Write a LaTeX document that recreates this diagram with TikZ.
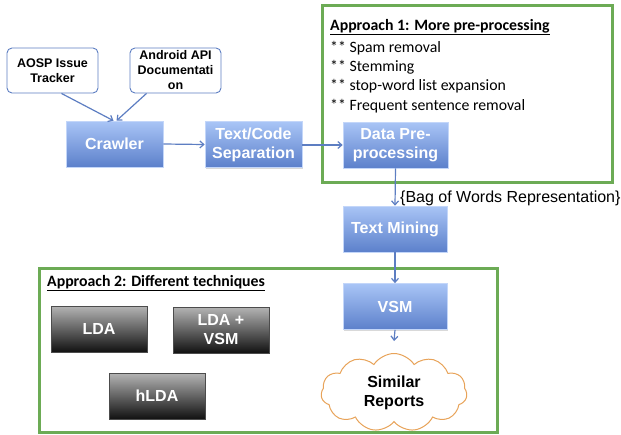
\documentclass[tikz,border=0pt]{standalone}
\usepackage{fontspec}
\setmainfont{Liberation Sans}
\newfontfamily\calibri{Carlito}
\usetikzlibrary{shapes.symbols,shadows,arrows.meta}
\definecolor{bluetop}{HTML}{A9C5F6}
\definecolor{bluebot}{HTML}{5C80CB}
\definecolor{blueline}{HTML}{5D7EC2}
\definecolor{grtop}{HTML}{B4B4B4}
\definecolor{grbot}{HTML}{111111}
\definecolor{frame}{HTML}{6CAB55}
\definecolor{cloudline}{HTML}{E8A359}
\begin{document}
\begin{tikzpicture}[x=1pt,y=-1pt,
  bluebox/.style={rectangle, draw=bluetop!70!white, line width=0.6pt, top color=bluetop, bottom color=bluebot,
    text=white, font=\bfseries\fontsize{16}{19}\selectfont, align=center, inner sep=0pt,
    minimum width=#1, minimum height=46pt, drop shadow={shadow xshift=1.2pt, shadow yshift=-1.2pt, opacity=0.3}},
  bluebox/.default=100pt,
  graybox/.style={rectangle, draw=black!70, line width=0.6pt, top color=grtop, bottom color=grbot,
    text=white, font=\bfseries\fontsize{16}{19}\selectfont, align=center, inner sep=0pt,
    minimum width=96pt, minimum height=46pt, drop shadow={shadow xshift=1.2pt, shadow yshift=-1.2pt, opacity=0.3}},
  srcbox/.style={rectangle, rounded corners=5pt, draw=blueline, line width=0.9pt, fill=white,
    font=\bfseries\fontsize{12.5}{15}\selectfont, align=center, inner sep=0pt,
    minimum width=91pt, minimum height=45pt},
  greenframe/.style={rectangle, draw=frame, line width=3pt, inner sep=0pt},
  flow/.style={draw=blueline, line width=1.2pt, -{Straight Barb[length=4pt,width=7pt]}},
  apptext/.style={anchor=base west, inner sep=0pt, font=\calibri\fontsize{15.8}{19}\selectfont},
  apptitle/.style={apptext, font=\calibri\bfseries\fontsize{15.8}{19}\selectfont},
]
\useasboundingbox (0,0) rectangle (621,434);

% frames
\node[greenframe, minimum width=290pt, minimum height=177pt] (frame1) at (467,93.5) {};
\node[greenframe, minimum width=458pt, minimum height=164pt] (frame2) at (268,350) {};

% approach 1 text
\node[apptitle] (a1title) at (330,30) {\underline{Approach 1: More pre-processing}};
\node[apptext] (a1l1) at (330,52) {** Spam removal};
\node[apptext] (a1l2) at (330,71) {** Stemming};
\node[apptext] (a1l3) at (330,90.5) {** stop-word list expansion};
\node[apptext] (a1l4) at (330,110) {** Frequent sentence removal};

% approach 2 title
\node[apptitle] (a2title) at (47,286) {\underline{Approach 2: Different techniques}};

% source boxes
\node[srcbox] (aosp) at (52.5,70.5) {AOSP Issue\\Tracker};
\node[srcbox] (android) at (175.5,70.5) {Android API\\Documentati\\on};

% pipeline
\node[bluebox=97pt] (crawler) at (114.5,144) {Crawler};
\node[bluebox=97pt] (sep) at (253.5,144.5) {Text/Code\\Separation};
\node[bluebox=105pt] (pre) at (395.5,145) {Data Pre-\\processing};
\node[bluebox=104pt] (mining) at (395,229) {Text Mining};
\node[bluebox=104pt] (vsm) at (395,306.5) {VSM};

% gray technique boxes
\node[graybox] (lda) at (99,329) {LDA};
\node[graybox] (ldavsm) at (221,330) {LDA +\\VSM};
\node[graybox] (hlda) at (157,396) {hLDA};

% cloud
\node[cloud, cloud puffs=11, cloud puff arc=115, aspect=1.9, draw=cloudline, line width=1pt, fill=white,
  minimum width=146pt, minimum height=78pt, inner sep=0pt,
  font=\bfseries\fontsize{16}{19}\selectfont, align=center] (cloud) at (394,392.5) {Similar\\Reports};

% connectors
\draw[flow] ([xshift=9pt]aosp.south) -- ([xshift=-1pt]crawler.north);
\draw[flow] ([xshift=-29pt]android.south) -- ([xshift=2pt]crawler.north);
\draw[flow] (crawler.east) -- (sep.west);
\draw[flow] (sep.east |- 0,145) -- (pre.west |- 0,145);
\draw[flow] (pre.south) -- (mining.north);
\node[anchor=west, inner sep=0pt, font=\fontsize{16}{19}\selectfont] (bow) at (400,198) {\{Bag of Words Representation\}};
\draw[flow] (mining.south) -- (vsm.north);
\draw[flow] (vsm.south) -- ([yshift=12pt]cloud.north);
\end{tikzpicture}
\end{document}
